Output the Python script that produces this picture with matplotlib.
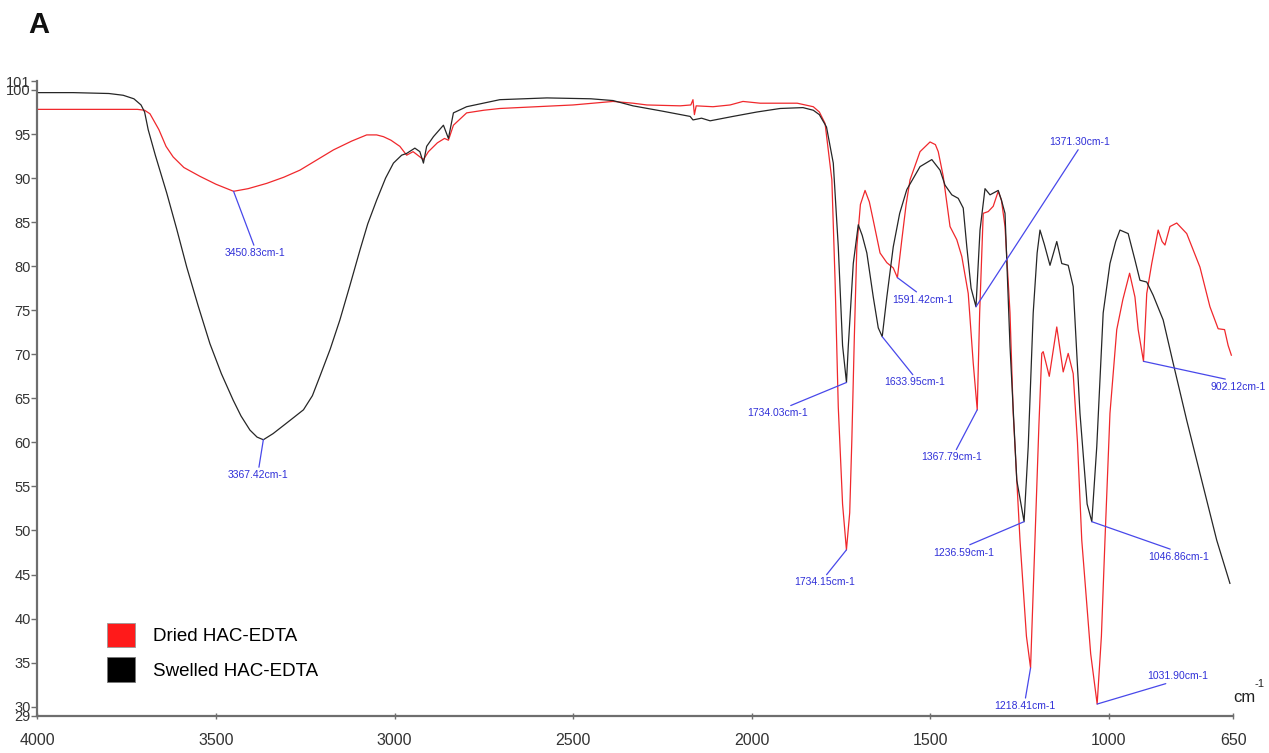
import numpy as np
import matplotlib
matplotlib.use('Agg')
import matplotlib.pyplot as plt
from matplotlib.patches import Patch

# FTIR transmittance (%) vs wavenumber (cm-1)
dried_wn = [4000, 3900, 3800, 3720, 3700, 3685, 3660, 3640, 3620, 3590, 3545, 3500, 3450.83, 3410, 3358,
            3310, 3265, 3220, 3171, 3120, 3078, 3050, 3031, 3010, 2985, 2966, 2948, 2935, 2919, 2905, 2880,
            2860, 2849, 2835, 2798, 2750, 2705, 2600, 2500, 2388, 2332, 2293, 2200, 2170, 2164, 2160, 2155,
            2108, 2060, 2024, 1976, 1920, 1872, 1827, 1810, 1794, 1775, 1766, 1757, 1745, 1734.15, 1725,
            1719, 1712, 1705, 1695, 1682, 1670, 1659, 1640, 1621, 1603, 1591.42, 1579, 1567, 1556, 1528,
            1500, 1485, 1477, 1463, 1444, 1425, 1411, 1393, 1379, 1367.79, 1361, 1351, 1337, 1323, 1309,
            1300, 1290, 1276, 1267, 1248, 1230, 1218.41, 1206, 1195, 1187, 1183, 1166, 1145, 1127, 1113,
            1099, 1087, 1075, 1050, 1031.90, 1020, 1010, 996, 977, 960, 941, 926, 917, 902.12, 893, 879,
            861, 850, 842, 828, 809, 781, 744, 716, 693, 675, 665, 656]
dried_t = [97.8, 97.8, 97.8, 97.8, 97.7, 97.3, 95.5, 93.6, 92.4, 91.2, 90.2, 89.3, 88.5, 88.8, 89.4,
           90.1, 90.9, 92.0, 93.2, 94.2, 94.9, 94.9, 94.7, 94.3, 93.6, 92.6, 93.0, 92.6, 92.1, 93.0, 94.0,
           94.5, 94.3, 96.0, 97.4, 97.7, 97.9, 98.1, 98.3, 98.7, 98.5, 98.3, 98.2, 98.3, 98.9, 97.2, 98.2,
           98.1, 98.3, 98.7, 98.5, 98.5, 98.5, 98.1, 97.5, 96.2, 89.8, 78.4, 64.0, 53.0, 47.8, 52.0,
           60.3, 72.0, 82.2, 87.0, 88.6, 87.3, 85.2, 81.5, 80.4, 79.8, 78.7, 83.0, 87.0, 89.8, 93.0,
           94.1, 93.8, 93.0, 90.2, 84.5, 83.0, 81.1, 76.9, 69.0, 63.7, 74.7, 86.0, 86.2, 86.8, 88.5,
           87.5, 84.5, 74.7, 63.3, 48.9, 38.0, 34.4, 48.9, 62.0, 70.1, 70.3, 67.5, 73.1, 68.0, 70.1,
           67.8, 60.0, 48.9, 36.0, 30.3, 38.0, 48.9, 63.3, 72.8, 76.2, 79.2, 76.5, 72.8, 69.2, 76.9, 80.3,
           84.1, 82.8, 82.4, 84.5, 84.9, 83.7, 79.9, 75.4, 72.9, 72.8, 71.0, 69.9]

swelled_wn = [4000, 3900, 3800, 3760, 3730, 3710, 3700, 3690, 3670, 3638, 3610, 3582, 3550, 3517, 3485,
              3452, 3430, 3405, 3385, 3367.42, 3340, 3302, 3280, 3255, 3230, 3209, 3180, 3153, 3125, 3097,
              3075, 3050, 3025, 3003, 2980, 2966, 2943, 2929, 2919, 2910, 2891, 2863, 2849, 2835, 2798,
              2705, 2573, 2450, 2388, 2332, 2250, 2172, 2164, 2140, 2116, 2052, 1985, 1920, 1856, 1827,
              1810, 1790, 1771, 1757, 1745, 1734.03, 1729, 1715, 1701, 1690, 1677, 1659, 1645, 1633.95,
              1621, 1603, 1585, 1565, 1528, 1495, 1472, 1458, 1439, 1421, 1407, 1397, 1385, 1371.30, 1360,
              1346, 1332, 1309, 1300, 1290, 1276, 1257, 1236.59, 1225, 1211, 1200, 1192, 1180, 1164, 1145,
              1131, 1113, 1099, 1080, 1060, 1046.86, 1033, 1015, 996, 980, 968, 945, 926, 912, 893, 875,
              847, 819, 781, 744, 697, 660]
swelled_t = [99.7, 99.7, 99.6, 99.4, 99.0, 98.3, 97.5, 95.5, 92.6, 88.3, 84.2, 79.9, 75.5, 71.2, 67.8,
             64.8, 63.0, 61.4, 60.6, 60.3, 61.0, 62.2, 62.9, 63.7, 65.3, 67.5, 70.6, 73.9, 77.8, 81.8,
             84.8, 87.5, 90.0, 91.7, 92.6, 92.8, 93.4, 93.0, 91.7, 93.6, 94.7, 96.0, 94.5, 97.4, 98.1,
             98.9, 99.1, 99.0, 98.8, 98.2, 97.6, 97.0, 96.6, 96.8, 96.5, 97.0, 97.5, 97.9, 98.0, 97.7,
             97.2, 95.8, 91.7, 82.2, 71.0, 66.8, 70.9, 80.3, 84.7, 83.5, 81.5, 76.5, 73.0, 72.0,
             76.5, 82.2, 86.0, 88.7, 91.3, 92.1, 90.9, 89.2, 88.1, 87.7, 86.6, 82.2, 77.5, 75.4, 84.1,
             88.8, 88.1, 88.6, 87.5, 86.0, 70.9, 55.7, 51.0, 59.5, 74.7, 81.5, 84.1, 82.5, 80.1, 82.8,
             80.3, 80.1, 77.7, 63.3, 53.0, 51.0, 59.5, 74.7, 80.3, 82.8, 84.1, 83.7, 80.7, 78.4, 78.2, 76.7,
             73.9, 69.0, 62.5, 56.5, 48.9, 44.0]

# picked bands
dried_peaks = [3450.83, 1734.15, 1591.42, 1367.79, 1218.41, 1031.90, 902.12]
swelled_peaks = [3367.42, 1734.03, 1633.95, 1371.30, 1236.59, 1046.86]

x_ticks = [4000, 3500, 3000, 2500, 2000, 1500, 1000, 650]
y_ticks = [29, 30, 35, 40, 45, 50, 55, 60, 65, 70, 75, 80, 85, 90, 95, 100, 101]

# label placement: band -> (text x, text y, line attach point on text box)
label_pos = {
    3450.83: (3391, 81.5, (0.5, 1)),
    3367.42: (3381, 56.3, (0.5, 1)),
    1734.03: (1926, 63.3, (0.6, 1)),
    1633.95: (1542, 66.8, (0.5, 1)),
    1591.42: (1519, 76.2, (0.45, 1)),
    1371.30: (1080, 94.1, (0.5, 0)),
    1367.79: (1439, 58.3, (0.55, 1)),
    1734.15: (1796, 44.1, (0.5, 1)),
    1236.59: (1407, 47.5, (0.5, 1)),
    1046.86: (805, 47.0, (0.5, 1)),
    1218.41: (1234, 30.1, (0.5, 1)),
    1031.90: (805, 33.5, (0.45, 0)),
    902.12: (637, 66.3, (0.5, 1)),
}

RED = '#f0282c'
BLACK = '#262626'
AXIS = '#6e6e6e'
narrow = ['Liberation Sans Narrow', 'Liberation Sans', 'DejaVu Sans']
arial = ['Liberation Sans', 'DejaVu Sans']

fig = plt.figure(figsize=(12.69, 7.53), dpi=100)
ax = fig.add_axes([0.02955, 0.0498, 0.94247, 0.8424])

ax.plot(dried_wn, dried_t, color=RED, lw=0.9)
ax.plot(swelled_wn, swelled_t, color=BLACK, lw=0.9)

ax.set_xlim(4000, 650)
ax.set_ylim(29, 101)
ax.set_xticks(x_ticks)
ax.set_yticks(y_ticks)
ax.set_xticklabels([str(v) for v in x_ticks], family=narrow, fontsize=11.5, color='#333333')
ax.set_yticklabels([str(v) for v in y_ticks], family=narrow, fontsize=10.5, color='#333333')
ax.tick_params(axis='y', direction='out', length=4, width=1, color=AXIS, pad=1)
ax.tick_params(axis='x', direction='inout', length=5, width=1, color=AXIS, pad=10)
for side in ['top', 'right']:
    ax.spines[side].set_visible(False)
for side in ['left', 'bottom']:
    ax.spines[side].set_color(AXIS)
    ax.spines[side].set_linewidth(1.6)


def add_labels(wns, ts, peaks):
    lookup = dict(zip(wns, ts))
    for p in peaks:
        tx, ty, rel = label_pos[p]
        ax.annotate(f'{p:.2f}cm-1', xy=(p, lookup[p]), xytext=(tx, ty), textcoords='data',
                    ha='center', va='center', fontsize=7.5, family=narrow, color='#3030d8',
                    annotation_clip=False,
                    arrowprops=dict(arrowstyle='-', color='#4848ea', lw=0.9,
                                    shrinkA=0, shrinkB=0, relpos=rel))


add_labels(dried_wn, dried_t, dried_peaks)
add_labels(swelled_wn, swelled_t, swelled_peaks)

# unit label at the end of the x axis
ax.text(1.0, 0.028, 'cm', transform=ax.transAxes, ha='left', va='center',
        fontsize=12, family=arial, color='#222222')
ax.text(1.0175, 0.05, '-1', transform=ax.transAxes, ha='left', va='center',
        fontsize=8, family=arial, color='#222222')

handles = [Patch(facecolor='#ff1a1a', edgecolor='#999999', lw=0.6),
           Patch(facecolor='#000000', edgecolor='#777777', lw=0.6)]
fig.legend(handles, ['Dried HAC-EDTA', 'Swelled HAC-EDTA'], loc='upper left',
           bbox_to_anchor=(107 / 1269, 1 - 623 / 753), frameon=False, borderpad=0,
           borderaxespad=0, handlelength=1.5, handleheight=1.6, handletextpad=0.95,
           labelspacing=0.55, prop={'family': arial, 'size': 13.5})

fig.text(28 / 1269, 1 - 25 / 753, 'A', fontsize=21, fontweight='bold', family=arial,
         ha='left', va='center', color='#111111')

fig.savefig('out.png', dpi=100)
